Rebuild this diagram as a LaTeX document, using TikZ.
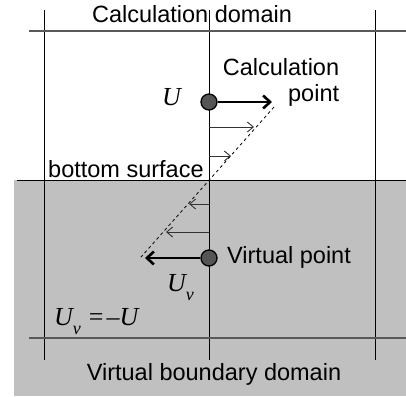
\documentclass[tikz,border=0pt]{standalone}
\usepackage{fontspec}
\setmainfont{Liberation Sans}
\newfontfamily\tms{Liberation Serif}
\usetikzlibrary{arrows.meta}
\definecolor{bg}{RGB}{192,192,192}
\definecolor{dot}{RGB}{85,85,85}
\newcommand\myU{{\tms\itshape\fontsize{26}{26}\selectfont U}}
\newcommand\myv{\raisebox{-9pt}{\tms\itshape\fontsize{18}{18}\selectfont v}}
\begin{document}
\begin{tikzpicture}[x=1pt,y=-1pt,
  lbl/.style={font=\fontsize{23.5}{26}\selectfont, inner sep=0pt},
  sym/.style={font=\tms\itshape\fontsize{26}{26}\selectfont, inner sep=0pt},
  vline/.style={black, line width=1pt},
  hline/.style={black!65, line width=1.2pt},
  ptnode/.style={circle, draw=black, line width=1.3pt, fill=dot, minimum size=16pt, inner sep=0pt},
  bigarrow/.style={line width=2.6pt, -{Straight Barb[length=7pt,width=13pt]}},
  smallarrow/.style={black!80, line width=0.9pt, -{Straight Barb[length=6pt,width=10pt]}},
  dashline/.style={black, line width=0.8pt, dash pattern=on 3pt off 3pt}
  ]
\useasboundingbox (0,0) rectangle (406,396);
\fill[bg] (14,180) rectangle (406,396);
% grid lines
\draw[vline] (44,10) -- (44,360);
\draw[vline] (209,10) -- (209,360);
\draw[vline] (375,10) -- (375,360);
\draw[hline] (29,31) -- (406,31);
\draw[black, line width=1pt] (17,180) -- (406,180);
\draw[hline] (29,338) -- (406,338);
% velocity profile
\coordinate (d1) at (274,107);
\coordinate (d2) at (141,257);
\draw[dashline] (d1) -- (d2);
\coordinate (a1s) at (209,127); \coordinate (a1e) at (254,127);
\coordinate (a2s) at (209,156); \coordinate (a2e) at (231,156);
\coordinate (a3s) at (209,204); \coordinate (a3e) at (189,204);
\coordinate (a4s) at (209,232); \coordinate (a4e) at (166,232);
\draw[smallarrow] (a1s) -- (a1e);
\draw[smallarrow] (a2s) -- (a2e);
\draw[smallarrow] (a3s) -- (a3e);
\draw[smallarrow] (a4s) -- (a4e);
\node[ptnode] (cp) at (209,102) {};
\node[ptnode] (vp) at (209,258) {};
\coordinate (cpTip) at (272,102);
\coordinate (vpTip) at (145,258);
\draw[bigarrow] (cp.east) -- (cpTip);
\draw[bigarrow] (vp.west) -- (vpTip);
% labels
\node[lbl, anchor=base] (title) at (192,23) {Calculation domain};
\node[lbl, anchor=center, align=right] (cplbl) at (281,82) {Calculation\\point};
\node[sym, anchor=base west] (U) at (162,105) {U};
\node[lbl, anchor=base west] (bs) at (48,177) {bottom surface};
\node[lbl, anchor=base west] (vplbl) at (227,263) {Virtual point};
\node[inner sep=0pt, anchor=base west] (Uv) at (167,291) {\myU\myv};
\node[inner sep=0pt, anchor=base west] (eq) at (54,325) {\myU\myv\hspace{8pt}{\tms\fontsize{26}{26}\selectfont =\hspace{3pt}–}\myU};
\node[lbl, anchor=base] (vbd) at (214,380) {Virtual boundary domain};
\end{tikzpicture}
\end{document}
